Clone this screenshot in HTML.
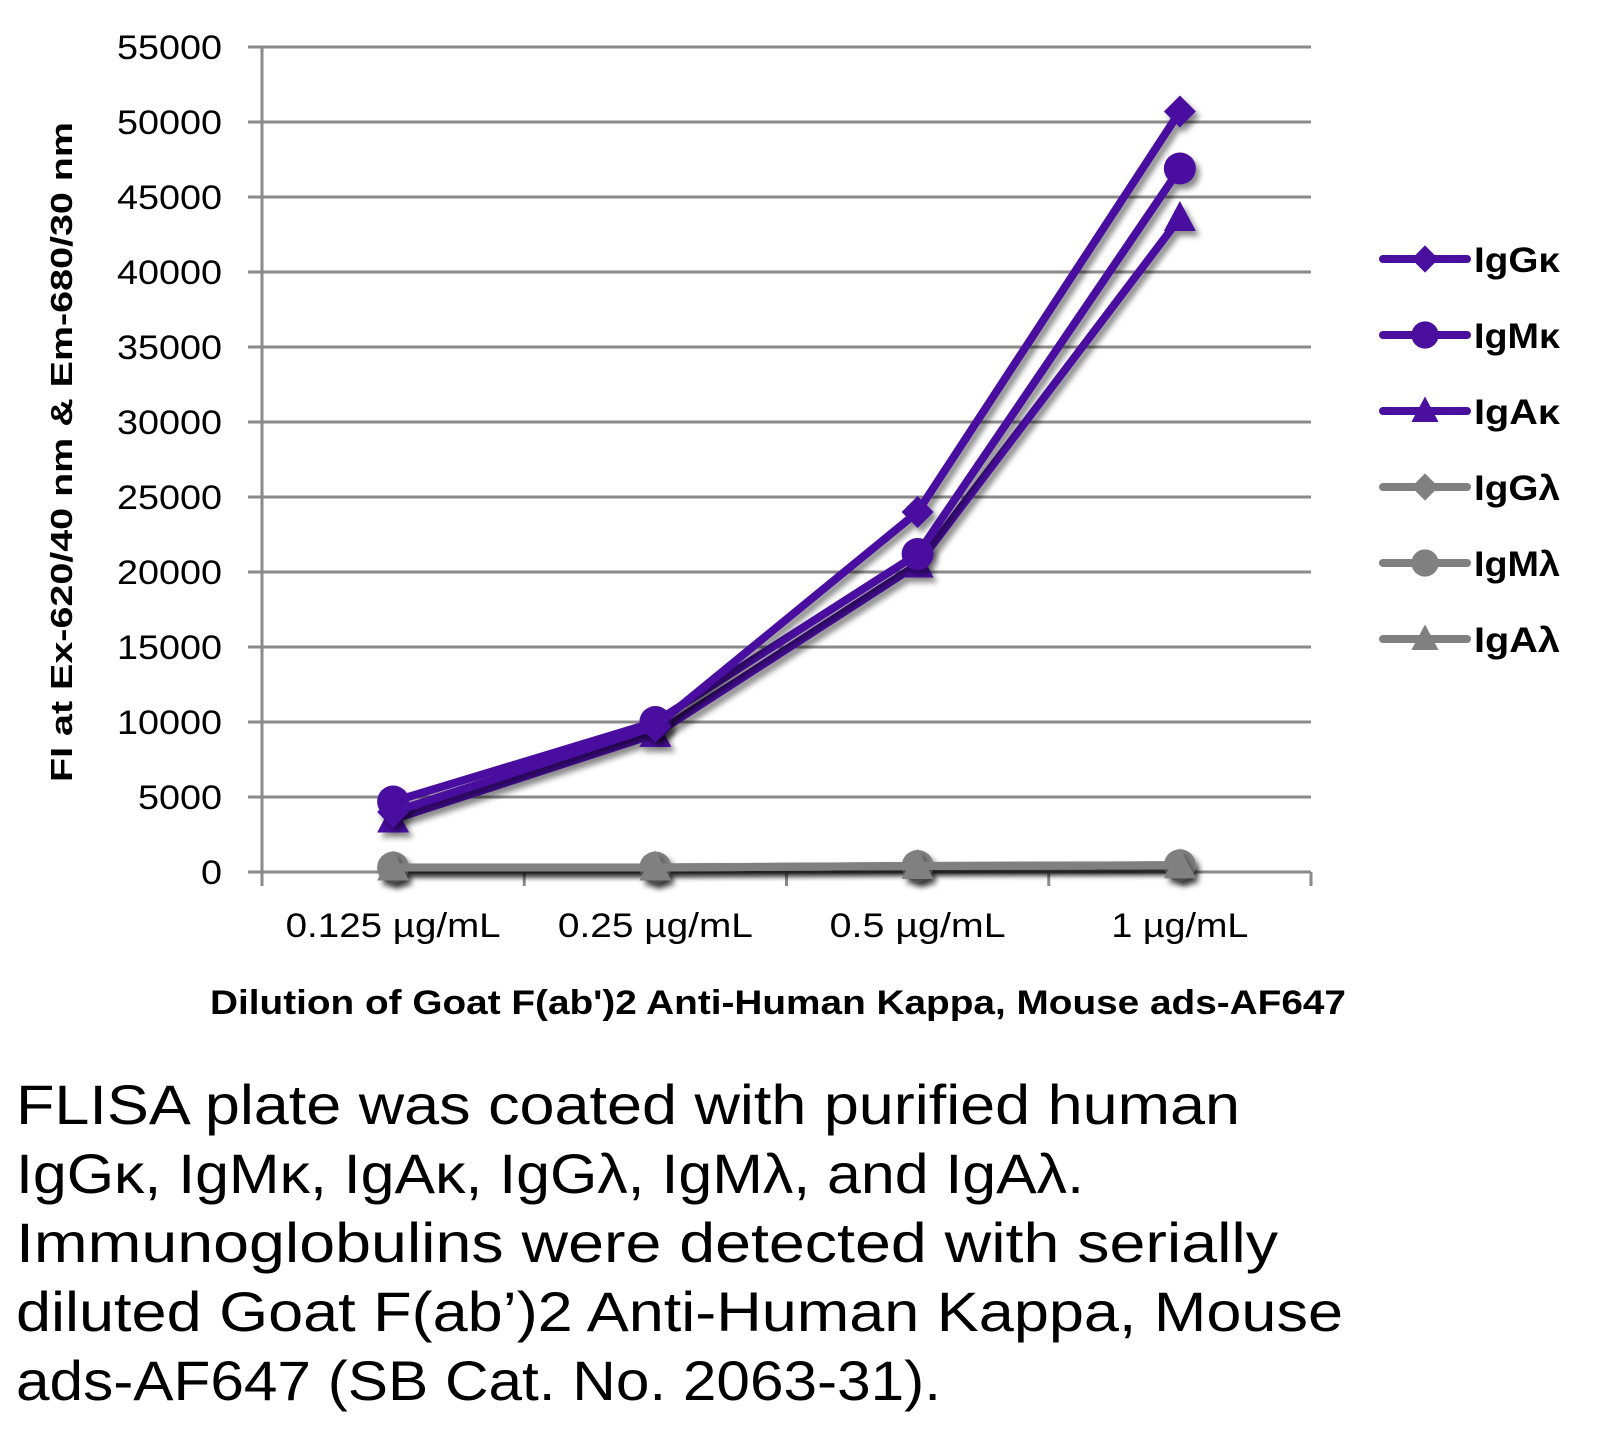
<!DOCTYPE html>
<html><head><meta charset="utf-8"><style>
html,body{margin:0;padding:0;background:#fff;}
svg{display:block;}
text{font-family:"Liberation Sans",sans-serif;}
</style></head><body>
<svg id="chart" width="1604" height="1430" viewBox="0 0 1604 1430" xmlns="http://www.w3.org/2000/svg">
<defs>
<filter id="sh" x="-50%" y="-50%" width="200%" height="200%"><feDropShadow dx="4" dy="5" stdDeviation="3" flood-color="#000" flood-opacity="0.45"/></filter>
</defs>
<g id="grid"></g>
<g id="axes"></g>
<g id="series"></g>
<g id="legend"></g>
<text transform="translate(72,452) rotate(-90)" text-anchor="middle" font-size="31" font-weight="bold" textLength="660" lengthAdjust="spacingAndGlyphs">FI at Ex-620/40 nm &amp; Em-680/30 nm</text>
<text x="778" y="1014" text-anchor="middle" font-size="34" font-weight="bold" textLength="1136" lengthAdjust="spacingAndGlyphs">Dilution of Goat F(ab')2 Anti-Human Kappa, Mouse ads-AF647</text>
<g font-size="56">
<text x="16" y="1124" textLength="1224" lengthAdjust="spacingAndGlyphs">FLISA plate was coated with purified human</text>
<text x="16" y="1193" textLength="1068" lengthAdjust="spacingAndGlyphs">IgGκ, IgMκ, IgAκ, IgGλ, IgMλ, and IgAλ.</text>
<text x="16" y="1262" textLength="1262" lengthAdjust="spacingAndGlyphs">Immunoglobulins were detected with serially</text>
<text x="16" y="1331" textLength="1327" lengthAdjust="spacingAndGlyphs">diluted Goat F(ab’)2 Anti-Human Kappa, Mouse</text>
<text x="16" y="1400" textLength="925" lengthAdjust="spacingAndGlyphs">ads-AF647 (SB Cat. No. 2063-31).</text>
</g>
</svg>
<script>
const categories = ["0.125 µg/mL","0.25 µg/mL","0.5 µg/mL","1 µg/mL"];
const yTicks = [0,5000,10000,15000,20000,25000,30000,35000,40000,45000,50000,55000];
const seriesNames = ["IgGκ","IgMκ","IgAκ","IgGλ","IgMλ","IgAλ"];
const igGk = [4000, 9700, 24000, 50700];
const igMk = [4700, 10000, 21200, 46900];
const igAk = [3500, 9200, 20500, 43600];
const igGl = [300, 300, 400, 450];
const igMl = [300, 300, 400, 450];
const igAl = [300, 300, 400, 450];

const NS="http://www.w3.org/2000/svg";
const X0=262, X1=1311, Y0=872, YMAX=55000, YTOP=47;
function yS(v){return Y0-(v/YMAX)*(Y0-YTOP);}
function xS(i){const w=(X1-X0)/categories.length;return X0+w*(i+0.5);}
function mk(tag,attrs,parent){const e=document.createElementNS(NS,tag);for(const k in attrs)e.setAttribute(k,attrs[k]);parent.appendChild(e);return e;}
const grid=document.getElementById('grid'),axes=document.getElementById('axes'),ser=document.getElementById('series'),leg=document.getElementById('legend');
yTicks.forEach(t=>{
  const l=mk('line',{x1:248,x2:X1,y1:yS(t),y2:yS(t),stroke:'#8a8a8a','stroke-width':3},grid);
  
  
  const s=String(t);
  const tx=mk('text',{x:222,y:yS(t)+12,'text-anchor':'end','font-size':34,textLength:s.length*21,lengthAdjust:'spacingAndGlyphs'},axes);
  tx.textContent=s;
  
  
});
const ya=mk('line',{x1:X0,x2:X0,y1:YTOP,y2:Y0+14,stroke:'#8a8a8a','stroke-width':3},axes);


for(let i=0;i<=categories.length;i++){
  const x=X0+(X1-X0)/categories.length*i;
  const t=mk('line',{x1:x,x2:x,y1:Y0,y2:Y0+14,stroke:'#8a8a8a','stroke-width':3},axes);
  
  
}
categories.forEach((c,i)=>{
  const t=mk('text',{x:xS(i),y:937,'text-anchor':'middle','font-size':34,textLength:Math.round(c.length*19.5),lengthAdjust:'spacingAndGlyphs'},axes);
  t.textContent=c;
  
  
});
function marker(type,x,y,color,parent,s){
  s=s||1;
  if(type==='d') return mk('polygon',{points:`${x},${y-16*s} ${x+16*s},${y} ${x},${y+16*s} ${x-16*s},${y}`,fill:color},parent);
  if(type==='c') return mk('circle',{cx:x,cy:y,r:16*s,fill:color},parent);
  return mk('polygon',{points:`${x},${y-17*s} ${x+16*s},${y+13*s} ${x-16*s},${y+13*s}`,fill:color},parent);
}
const P='#4a0f9f',G='#808080';
const all=[[igGl,'d',G],[igMl,'c',G],[igAl,'t',G],[igAk,'t',P],[igMk,'c',P],[igGk,'d',P]];
all.forEach(([vals,type,col])=>{
  const g=mk('g',{filter:'url(#sh)'},ser);
  
  
  const pl=mk('polyline',{points:vals.map((v,i)=>xS(i)+','+yS(v)).join(' '),fill:'none',stroke:col,'stroke-width':8,'stroke-linejoin':'round'},g);
  
  
  vals.forEach((v,i)=>{
    const m=marker(type,xS(i),yS(v),col,g);
    
    
  });
});
const legTypes=['d','c','t','d','c','t'],legCols=[P,P,P,G,G,G];
seriesNames.forEach((n,i)=>{
  const y=259+76*i;
  const g=mk('g',{},leg);
  
  
  mk('line',{x1:1383,x2:1467,y1:y,y2:y,stroke:legCols[i],'stroke-width':8,'stroke-linecap':'round'},g);
  marker(legTypes[i],1425,y,legCols[i],g,0.85);
  const t=mk('text',{x:1474,y:y+13,'font-size':35,'font-weight':'bold',textLength:86,lengthAdjust:'spacingAndGlyphs'},g);
  t.textContent=n;
});
</script>
</body></html>
